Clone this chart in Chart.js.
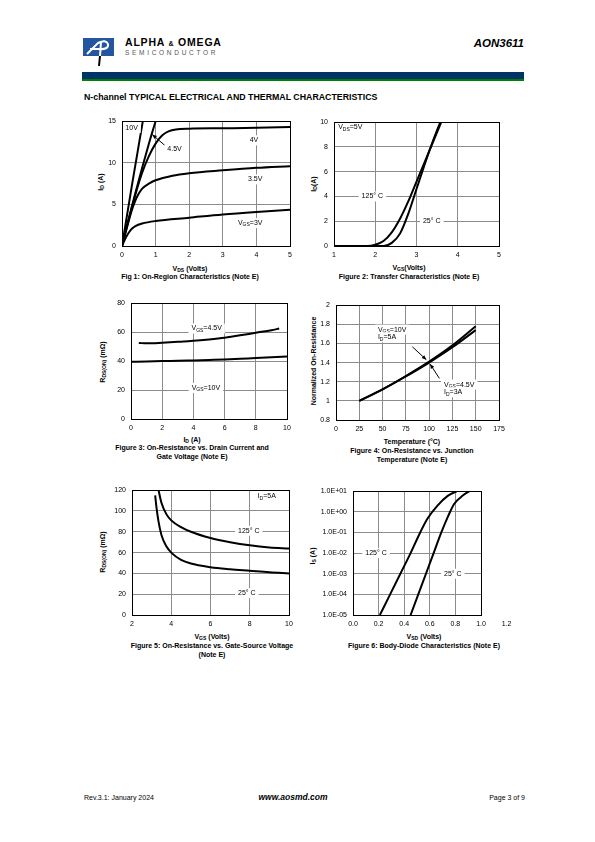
<!DOCTYPE html>
<html>
<head>
<meta charset="utf-8">
<script src="https://cdn.jsdelivr.net/npm/chart.js@4.4.0/dist/chart.umd.min.js"></script>
<style>
  body { margin: 0; background: #fff; font-family: "Liberation Sans", Arial, sans-serif; }
  #page { position: relative; width: 595px; height: 842px; overflow: hidden; }
  .abs { position: absolute; white-space: nowrap; line-height: 1; }
  .c { font-weight: bold; font-size: 7px; transform: translate(-50%, -50%); }
  .yt { font-weight: bold; font-size: 7px; transform: translate(-50%, -50%) rotate(-90deg); }
  sub { font-size: 5px; vertical-align: -1.5px; line-height: 0; }
  canvas { position: absolute; }
</style>
</head>
<body>
<div id="page">
  <!-- header -->
  <svg class="abs" style="left:83px;top:38px" width="34" height="30" viewBox="0 0 34 30">
    <rect x="0" y="0" width="31" height="18" fill="#23569f"/>
    <path d="M4 16 L15 5 Q23 1 25 6 Q26 12 15 11 L7 11" stroke="#fff" stroke-width="2" fill="none"/>
    <path d="M18 4 L17 18" stroke="#fff" stroke-width="2"/>
    <path d="M17 18 L16 28" stroke="#000" stroke-width="2"/>
  </svg>
  <div class="abs" style="left:125px;top:37px;font-weight:bold;font-size:10.5px;letter-spacing:0.8px;">ALPHA <span style="font-size:7px">&amp;</span> OMEGA</div>
  <div class="abs" style="left:125px;top:50px;font-size:6.5px;letter-spacing:2.7px;color:#555;">SEMICONDUCTOR</div>
  <div class="abs" style="right:71px;top:38px;font-weight:bold;font-style:italic;font-size:11.5px;">AON3611</div>
  <div class="abs" style="left:82px;top:72px;width:442px;height:7px;background:#003366;"></div>
  <div class="abs" style="left:82px;top:79px;width:442px;height:2px;background:#008000;"></div>
  <div class="abs" style="left:84px;top:93px;font-weight:bold;font-size:8.8px;">N-channel TYPICAL ELECTRICAL AND THERMAL CHARACTERISTICS</div>

  <!-- fig 1 -->
  <div class="abs yt" style="left:100px;top:182px;">I<sub>D</sub> (A)</div>
  <div class="abs c" style="left:190px;top:268px;">V<sub>DS</sub> (Volts)</div>
  <div class="abs c" style="left:190px;top:276px;">Fig 1: On-Region Characteristics (Note E)</div>
  <!-- fig 2 -->
  <div class="abs yt" style="left:313px;top:184px;">I<sub>D</sub>(A)</div>
  <div class="abs c" style="left:409px;top:267px;">V<sub>GS</sub>(Volts)</div>
  <div class="abs c" style="left:409px;top:276px;">Figure 2: Transfer Characteristics (Note E)</div>
  <!-- fig 3 -->
  <div class="abs yt" style="left:102px;top:362px;">R<sub>DS(ON)</sub> (m&Omega;)</div>
  <div class="abs c" style="left:192px;top:439px;">I<sub>D</sub> (A)</div>
  <div class="abs c" style="left:192px;top:447px;">Figure 3: On-Resistance vs. Drain Current and</div>
  <div class="abs c" style="left:192px;top:456px;">Gate Voltage (Note E)</div>
  <!-- fig 4 -->
  <div class="abs yt" style="left:313px;top:361px;">Normalized On-Resistance</div>
  <div class="abs c" style="left:412px;top:441px;">Temperature (&deg;C)</div>
  <div class="abs c" style="left:412px;top:450px;">Figure 4: On-Resistance vs. Junction</div>
  <div class="abs c" style="left:412px;top:459px;">Temperature (Note E)</div>
  <!-- fig 5 -->
  <div class="abs yt" style="left:102px;top:552px;">R<sub>DS(ON)</sub> (m&Omega;)</div>
  <div class="abs c" style="left:212px;top:636px;">V<sub>GS</sub> (Volts)</div>
  <div class="abs c" style="left:212px;top:645px;">Figure 5: On-Resistance vs. Gate-Source Voltage</div>
  <div class="abs c" style="left:212px;top:654px;">(Note E)</div>
  <!-- fig 6 -->
  <div class="abs yt" style="left:312px;top:556px;">I<sub>S</sub> (A)</div>
  <div class="abs c" style="left:424px;top:636px;">V<sub>SD</sub> (Volts)</div>
  <div class="abs c" style="left:424px;top:645px;">Figure 6: Body-Diode Characteristics (Note E)</div>

  <!-- footer -->
  <div class="abs" style="left:84px;top:794px;font-size:7px;">Rev.3.1: January 2024</div>
  <div class="abs" style="left:293px;top:793px;transform:translateX(-50%);font-weight:bold;font-style:italic;font-size:8.5px;">www.aosmd.com</div>
  <div class="abs" style="right:70px;top:794px;font-size:7px;">Page 3 of 9</div>
</div>
<script>
// Fig 1: ID vs VDS, one curve per VGS
const f1Vgs10 = [[0,0],[0.3,7.4],[0.62,15],[0.7,16.9]];
const f1Vgs45 = [[0,0],[0.2,3.3],[0.4,6.4],[0.6,9.4],[0.8,12.3],[1.0,15.0],[1.1,16.3]];
const f1Vgs4  = [[0,0],[0.2,3.2],[0.4,6.2],[0.6,8.8],[0.8,10.8],[1.0,12.3],[1.2,13.3],[1.4,13.8],[1.6,14.0],[2,14.1],[3,14.15],[4,14.2],[5,14.3]];
const f1Vgs35 = [[0,0],[0.1,1.5],[0.2,3.0],[0.3,4.4],[0.4,5.5],[0.5,6.3],[0.6,6.9],[0.8,7.5],[1.0,7.9],[1.5,8.45],[2,8.75],[3,9.1],[4,9.4],[5,9.6]];
const f1Vgs3  = [[0,0],[0.1,0.9],[0.2,1.6],[0.3,2.1],[0.4,2.4],[0.6,2.7],[1.0,3.0],[2,3.4],[3,3.8],[4,4.1],[5,4.35]];
const f1Xticks = [0,1,2,3,4,5];
const f1Yticks = [0,5,10,15];

// Fig 2: transfer, ID vs VGS
const f2T125 = [[1,0],[1.8,0],[2.0,0.1],[2.2,0.4],[2.4,1.1],[2.6,2.2],[2.8,3.6],[3.0,5.2],[3.2,6.8],[3.4,8.4],[3.6,10.0],[3.7,10.8]];
const f2T25  = [[1,0],[2.2,0],[2.4,0.25],[2.6,1.0],[2.8,2.6],[3.0,4.6],[3.2,6.6],[3.4,8.5],[3.6,10.2],[3.7,11]];
const f2Xticks = [1,2,3,4,5];
const f2Yticks = [0,2,4,6,8,10];

// Fig 3: RDS(on) vs ID
const f3Vgs45 = [[0.5,52.5],[1,52.3],[2,52.7],[3,53.3],[4,54.0],[5,55.0],[6,56.2],[7,57.8],[8,59.6],[9,61.3],[9.5,62.5]];
const f3Vgs10 = [[0,39.5],[1,39.7],[2,40.0],[3,40.2],[4,40.5],[5,40.8],[6,41.1],[7,41.6],[8,42.1],[9,42.6],[10,43.1]];
const f3Xticks = [0,2,4,6,8,10];
const f3Yticks = [0,20,40,60,80];

// Fig 4: normalized RDS(on) vs temperature
const f4Vgs10 = [[25,1.0],[50,1.12],[75,1.26],[100,1.41],[125,1.58],[150,1.78]];
const f4Vgs45 = [[25,1.0],[50,1.12],[75,1.255],[100,1.40],[125,1.56],[150,1.74]];
const f4Xticks = [0,25,50,75,100,125,150,175];
const f4Yticks = [0.8,1,1.2,1.4,1.6,1.8,2];

// Fig 5: RDS(on) vs VGS
const f5T125 = [[3.33,122],[3.5,108],[3.75,97],[4,91],[4.5,84.5],[5,80],[6,74],[7,70],[8,67],[9,65],[10,64]];
const f5T25  = [[3.18,115],[3.25,103],[3.35,90],[3.5,77],[3.75,66],[4,60],[4.5,53],[5,49.5],[6,46],[7,44],[8,42.5],[9,41],[10,40]];
const f5Xticks = [2,4,6,8,10];
const f5Yticks = [0,20,40,60,80,100,120];

// Fig 6: body diode IS vs VSD
const f6T125 = [[0.21,1e-5],[0.29,1e-4],[0.37,1e-3],[0.45,1e-2],[0.525,1e-1],[0.58,0.45],[0.66,2.0],[0.74,5.9],[0.81,10],[0.85,12]];
const f6T25  = [[0.45,1e-5],[0.51,1e-4],[0.57,1e-3],[0.63,1e-2],[0.69,1e-1],[0.745,0.65],[0.79,2.4],[0.86,6.3],[0.91,10],[0.95,13]];
const f6Xticks = [0,0.2,0.4,0.6,0.8,1.0,1.2];
const f6Yticks = [1e1,1e0,1e-1,1e-2,1e-3,1e-4,1e-5];

const AXW = 50, AXH = 22, PT = 8;
const FONT = '"Liberation Sans", Arial, sans-serif';

function parse(str) {
  const out = [], re = /_\{([^}]*)\}/g;
  let last = 0, m;
  while ((m = re.exec(str))) {
    if (m.index > last) out.push({ t: str.slice(last, m.index) });
    out.push({ t: m[1], sub: true });
    last = re.lastIndex;
  }
  if (last < str.length) out.push({ t: str.slice(last) });
  return out;
}

function drawRich(c, str, x, y, align, bg) {
  const parts = parse(str);
  let w = 0;
  parts.forEach(p => { c.font = (p.sub ? 5 : 7) + 'px ' + FONT; p.w = c.measureText(p.t).width; w += p.w; });
  let x0 = align === 'center' ? x - w / 2 : x;
  if (bg) { c.fillStyle = '#fff'; c.fillRect(x0 - 3, y - 5, w + 6, 10); }
  c.fillStyle = '#000';
  c.textBaseline = 'middle';
  c.textAlign = 'left';
  parts.forEach(p => {
    c.font = (p.sub ? 5 : 7) + 'px ' + FONT;
    c.fillText(p.t, x0, p.sub ? y + 2 : y);
    x0 += p.w;
  });
}

const frame = {
  id: 'frame',
  afterDraw(ch) {
    const a = ch.chartArea, c = ch.ctx;
    const x0 = Math.round(a.left - 0.5) + 0.5, x1 = Math.round(a.right - 0.5) + 0.5;
    const y0 = Math.round(a.top - 0.5) + 0.5, y1 = Math.round(a.bottom - 0.5) + 0.5;
    c.save();
    c.strokeStyle = '#000';
    c.lineWidth = 1;
    c.strokeRect(x0, y0, x1 - x0, y1 - y0);
    c.restore();
  }
};

const notes = {
  id: 'notes',
  afterDatasetsDraw(ch, args, opts) {
    const c = ch.ctx, xs = ch.scales.x, ys = ch.scales.y;
    c.save();
    (opts.arrows || []).forEach(a => {
      const x1 = xs.getPixelForValue(a[0]), y1 = ys.getPixelForValue(a[1]);
      const x2 = xs.getPixelForValue(a[2]), y2 = ys.getPixelForValue(a[3]);
      const ang = Math.atan2(y2 - y1, x2 - x1);
      c.strokeStyle = '#000'; c.fillStyle = '#000'; c.lineWidth = 1;
      c.beginPath(); c.moveTo(x1, y1); c.lineTo(x2, y2); c.stroke();
      c.beginPath();
      c.moveTo(x2, y2);
      c.lineTo(x2 - 5 * Math.cos(ang - 0.4), y2 - 5 * Math.sin(ang - 0.4));
      c.lineTo(x2 - 5 * Math.cos(ang + 0.4), y2 - 5 * Math.sin(ang + 0.4));
      c.closePath(); c.fill();
    });
    (opts.items || []).forEach(n => {
      drawRich(c, n.text, xs.getPixelForValue(n.x), ys.getPixelForValue(n.y), n.align || 'left', n.bg !== false);
    });
    c.restore();
  }
};

function axis(a, dir) {
  return {
    type: a.log ? 'logarithmic' : 'linear',
    min: a.min, max: a.max,
    afterBuildTicks: s => { s.ticks = a.ticks.map(v => ({ value: v })); },
    afterFit: s => { if (dir === 'x') s.height = AXH; else s.width = AXW; },
    grid: {
      color: ctx => (ctx.tick && ctx.tick.value > a.max * 1.0001) ? 'rgba(0,0,0,0)' : '#8c8c8c',
      lineWidth: 1,
      drawTicks: false
    },
    border: { display: false },
    ticks: {
      autoSkip: false, maxRotation: 0, padding: dir === 'x' ? 5 : 6,
      color: '#000', font: { family: FONT, size: 7 },
      callback: a.fmt || (v => String(v))
    }
  };
}

function build(o) {
  const page = document.getElementById('page');
  const cv = document.createElement('canvas');
  const padR = o.padR || 14;
  cv.width = o.area.r - o.area.l + AXW + padR;
  cv.height = o.area.b - o.area.t + PT + AXH;
  cv.style.left = (o.area.l - AXW) + 'px';
  cv.style.top = (o.area.t - PT) + 'px';
  page.appendChild(cv);
  new Chart(cv, {
    type: 'scatter',
    data: {
      datasets: o.series.map(s => ({
        data: s.map(p => ({ x: p[0], y: p[1] })),
        showLine: true, borderColor: '#000', borderWidth: 2, pointRadius: 0,
        cubicInterpolationMode: 'monotone', fill: false
      }))
    },
    options: {
      responsive: false, animation: false, events: [],
      layout: { padding: { top: PT, right: padR, left: 0, bottom: 0 } },
      plugins: {
        legend: { display: false }, tooltip: { enabled: false },
        notes: { items: o.notes || [], arrows: o.arrows || [] }
      },
      scales: { x: axis(o.x, 'x'), y: axis(o.y, 'y') }
    },
    plugins: [frame, notes]
  });
}

build({
  area: { l: 122, t: 119, r: 290, b: 246 },
  series: [f1Vgs10, f1Vgs45, f1Vgs4, f1Vgs35, f1Vgs3],
  x: { min: 0, max: 5, ticks: f1Xticks },
  y: { min: 0, max: 15, ticks: f1Yticks },
  notes: [
    { x: 0.1, y: 14.2, text: '10V' },
    { x: 1.35, y: 11.6, text: '4.5V' },
    { x: 3.8, y: 12.7, text: '4V' },
    { x: 3.75, y: 8.0, text: '3.5V' },
    { x: 3.45, y: 2.75, text: 'V_{GS}=3V' }
  ],
  arrows: [[1.3, 12.0, 0.9, 13.4]]
});

build({
  area: { l: 334, t: 120, r: 499, b: 246 },
  series: [f2T125, f2T25],
  x: { min: 1, max: 5, ticks: f2Xticks },
  y: { min: 0, max: 10, ticks: f2Yticks },
  notes: [
    { x: 1.1, y: 9.6, text: 'V_{DS}=5V' },
    { x: 1.93, y: 4, text: '125° C', align: 'center' },
    { x: 3.37, y: 2, text: '25° C', align: 'center' }
  ]
});

build({
  area: { l: 131, t: 301, r: 287, b: 419 },
  series: [f3Vgs45, f3Vgs10],
  x: { min: 0, max: 10, ticks: f3Xticks },
  y: { min: 0, max: 80, ticks: f3Yticks },
  notes: [
    { x: 4.85, y: 62.5, text: 'V_{GS}=4.5V', align: 'center' },
    { x: 4.8, y: 21.5, text: 'V_{GS}=10V', align: 'center' }
  ]
});

build({
  area: { l: 336, t: 303, r: 499, b: 420 },
  series: [f4Vgs10, f4Vgs45],
  x: { min: 0, max: 175, ticks: f4Xticks },
  y: { min: 0.8, max: 2, ticks: f4Yticks },
  notes: [
    { x: 45, y: 1.745, text: 'V_{GS}=10V' },
    { x: 45, y: 1.665, text: 'I_{D}=5A' },
    { x: 116, y: 1.17, text: 'V_{GS}=4.5V' },
    { x: 116, y: 1.09, text: 'I_{D}=3A' }
  ],
  arrows: [[82, 1.565, 97, 1.43], [111, 1.235, 101, 1.385]]
});

build({
  area: { l: 132, t: 488, r: 289, b: 615 },
  series: [f5T125, f5T25],
  x: { min: 2, max: 10, ticks: f5Xticks },
  y: { min: 0, max: 120, ticks: f5Yticks },
  notes: [
    { x: 8.4, y: 114, text: 'I_{D}=5A' },
    { x: 7.95, y: 81, text: '125° C', align: 'center' },
    { x: 7.85, y: 21, text: '25° C', align: 'center' }
  ]
});

build({
  area: { l: 353, t: 489, r: 481, b: 615 },
  padR: 36,
  series: [f6T125, f6T25],
  x: { min: 0, max: 1.0, ticks: f6Xticks, fmt: v => v.toFixed(1) },
  y: {
    log: true, min: 1e-5, max: 10, ticks: f6Yticks,
    fmt: v => { const e = Math.round(Math.log10(v)); return '1.0E' + (e < 0 ? '-' : '+') + String(Math.abs(e)).padStart(2, '0'); }
  },
  notes: [
    { x: 0.18, y: 1e-2, text: '125° C', align: 'center' },
    { x: 0.78, y: 1e-3, text: '25° C', align: 'center' }
  ]
});
</script>
</body>
</html>
